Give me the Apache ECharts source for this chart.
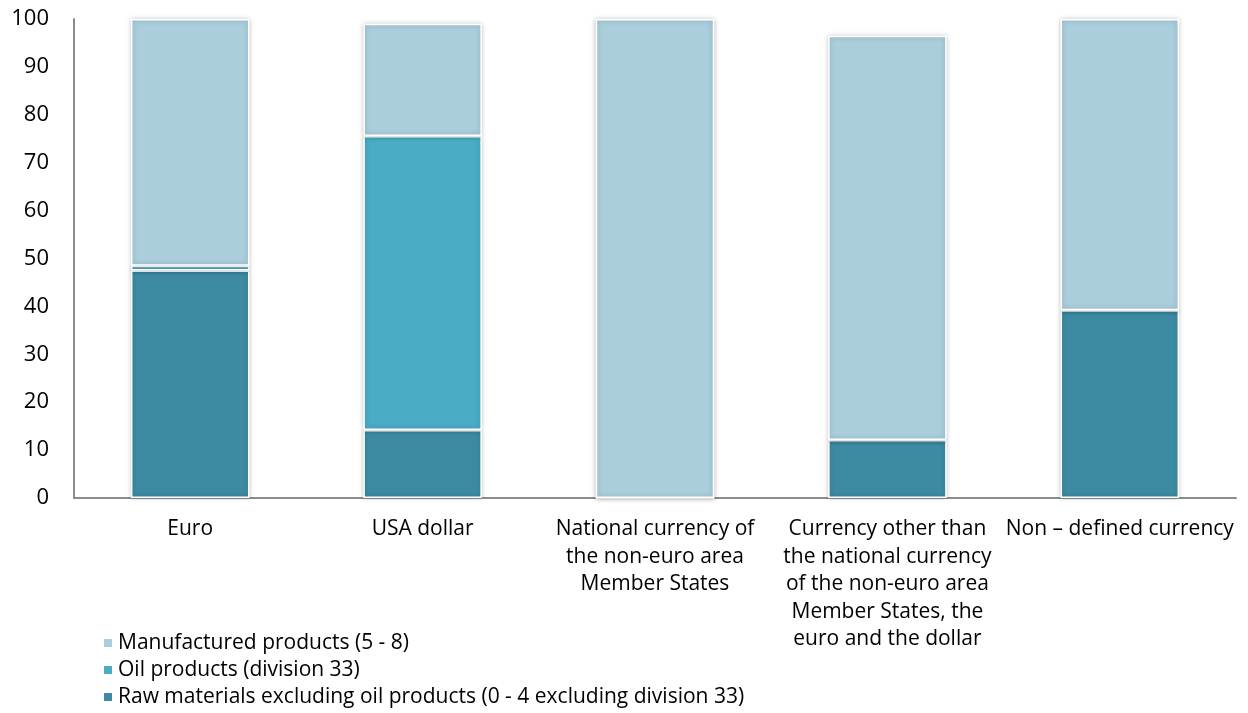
<!DOCTYPE html>
<html><head><meta charset="utf-8">
<script src="https://cdn.jsdelivr.net/npm/echarts@6/dist/echarts.min.js"></script>
<style>html,body{margin:0;padding:0;background:#fff}#c{width:1248px;height:713px}</style>
</head><body><div id="c"></div>
<script>
const categories = ["Euro", "USA dollar", "National currency of\nthe non-euro area\nMember States", "Currency other than\nthe national currency\nof the non-euro area\nMember States, the\neuro and the dollar", "Non \u2013 defined currency"];
const rawMaterials = [47.5, 14.2, 0, 12.1, 39.2];
const oilProducts = [1.0, 61.4, 0, 0, 0];
const manufactured = [51.5, 23.4, 100, 84.4, 60.8];
const yTicks = [0, 10, 20, 30, 40, 50, 60, 70, 80, 90, 100];
const names = ["Raw materials excluding oil products (0 - 4 excluding division 33)", "Oil products (division 33)", "Manufactured products (5 - 8)"];
const colors = ["#3D8BA2", "#4BACC6", "#AACEDC"];
const font = "'Open Sans', sans-serif";
const chart = echarts.init(document.getElementById('c'), null, {renderer: 'canvas'});
function s(name, data, color) {
  return {name: name, type: 'bar', stack: 't', data: data, barWidth: '51%',
    itemStyle: {color: color, borderColor: '#fff', borderWidth: 1.5, shadowBlur: 5, shadowColor: 'rgba(0,0,0,0.25)'}};
}
chart.setOption({
  animation: false,
  textStyle: {fontFamily: font},
  grid: {left: 74, right: 12, top: 19, bottom: 215, containLabel: false},
  legend: {orient: 'vertical', left: 102, top: 632.5, height: 80, padding: 0, itemWidth: 10, itemHeight: 10, itemGap: 6,
    icon: 'rect', data: [names[2], names[1], names[0]],
    textStyle: {fontFamily: font, fontSize: 21, lineHeight: 21, color: '#000'}},
  xAxis: {type: 'category', data: categories,
    axisLine: {lineStyle: {color: '#8c8c8c', width: 2}}, axisTick: {show: false},
    axisLabel: {interval: 0, fontFamily: font, fontSize: 21, color: '#000', lineHeight: 27.5, margin: 17.5}},
  yAxis: {type: 'value', min: yTicks[0], max: yTicks[yTicks.length-1], interval: 10,
    axisLine: {show: true, lineStyle: {color: '#8c8c8c', width: 2}}, axisTick: {show: false},
    splitLine: {show: false},
    axisLabel: {fontFamily: font, fontSize: 22, color: '#000', margin: 25}},
  series: [s(names[0], rawMaterials, colors[0]), s(names[1], oilProducts, colors[1]), s(names[2], manufactured, colors[2])]
});
</script></body></html>
